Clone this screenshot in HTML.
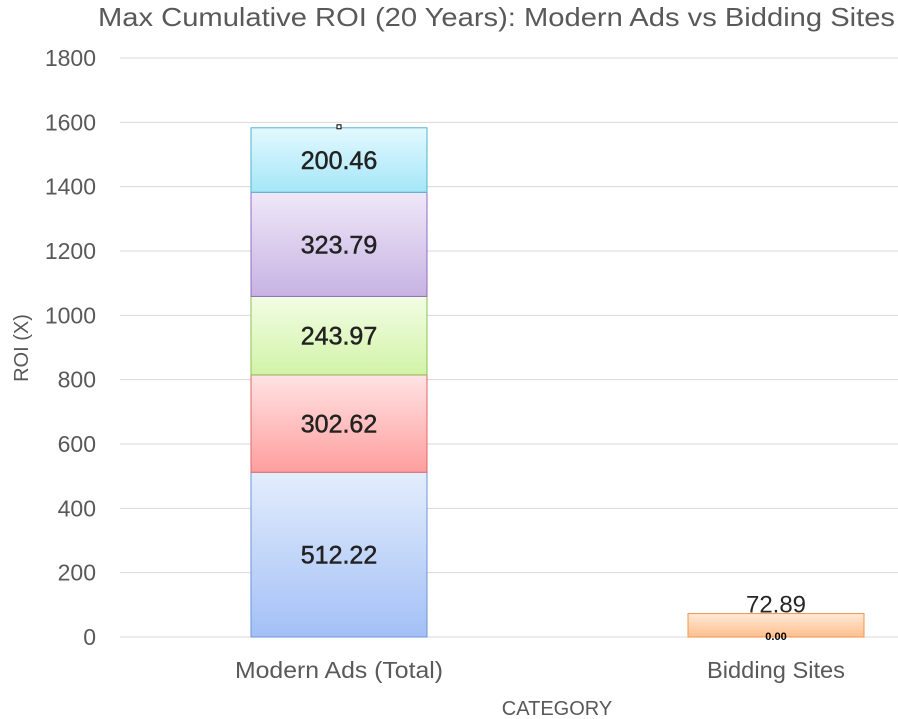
<!DOCTYPE html>
<html><head><meta charset="utf-8"><style>
body{margin:0;background:#fff}
svg{display:block;font-family:"Liberation Sans",sans-serif}
</style></head><body>
<svg id="chart" width="898" height="719">
<defs>
<linearGradient id="g0" x1="0" y1="1" x2="0" y2="0"><stop offset="0" stop-color="#a3c0f6"/><stop offset="1" stop-color="#e3edfd"/></linearGradient>
<linearGradient id="g1" x1="0" y1="1" x2="0" y2="0"><stop offset="0" stop-color="#ff9e9e"/><stop offset="1" stop-color="#ffe3e3"/></linearGradient>
<linearGradient id="g2" x1="0" y1="1" x2="0" y2="0"><stop offset="0" stop-color="#d2f3a8"/><stop offset="1" stop-color="#f2fde4"/></linearGradient>
<linearGradient id="g3" x1="0" y1="1" x2="0" y2="0"><stop offset="0" stop-color="#c7b3e3"/><stop offset="1" stop-color="#efe8f8"/></linearGradient>
<linearGradient id="g4" x1="0" y1="1" x2="0" y2="0"><stop offset="0" stop-color="#a5e6f8"/><stop offset="1" stop-color="#e3f9fe"/></linearGradient>
<linearGradient id="g5" x1="0" y1="1" x2="0" y2="0"><stop offset="0" stop-color="#ffbf8c"/><stop offset="1" stop-color="#ffe9d8"/></linearGradient>
</defs>
<text x="98" y="26" textLength="797" lengthAdjust="spacingAndGlyphs" font-size="26" fill="#595959">Max Cumulative ROI (20 Years): Modern Ads vs Bidding Sites</text>
<g id="grid"></g><g id="bars"></g>
<text x="28" y="348" text-anchor="middle" font-size="20" fill="#595959" transform="rotate(-90 28 348)">ROI (X)</text>
<text x="557" y="715" text-anchor="middle" font-size="20" fill="#595959">CATEGORY</text>
</svg>
<script>
const ticks=[0,200,400,600,800,1000,1200,1400,1600,1800];
const categories=["Modern Ads (Total)","Bidding Sites"];
const modernSegments=[512.22,302.62,243.97,323.79,200.46];
const biddingValues=[72.89];
const fills=["url(#g0)","url(#g1)","url(#g2)","url(#g3)","url(#g4)","url(#g5)"];
const strokes=["#6f93d6","#e06666","#8cc152","#8e6cc0","#4fb3cf","#f0964f"];
const catW=[208,138];
const NS="http://www.w3.org/2000/svg";
function y(v){return 637-v*579/1800;}
const catX=[339,776],bw=176;
function mk(t,a,p){const e=document.createElementNS(NS,t);for(const k in a)e.setAttribute(k,a[k]);p.appendChild(e);return e;}
const grid=document.getElementById('grid'),bars=document.getElementById('bars');
ticks.forEach(t=>{
 const l=mk('line',{x1:120,x2:898,y1:y(t),y2:y(t),stroke:'#d9d9d9','stroke-width':1},grid);
 
 
 const tx=mk('text',{x:96,y:y(t)+8,'text-anchor':'end','font-size':23,fill:'#595959'},grid);
 tx.textContent=t;
 
 
});
categories.forEach((c,i)=>{
 const tx=mk('text',{x:catX[i]-catW[i]/2,y:678,textLength:catW[i],lengthAdjust:'spacingAndGlyphs','font-size':23,fill:'#595959'},grid);
 tx.textContent=c;
 
 
});
let base=0;
modernSegments.forEach((v,i)=>{
 const r=mk('rect',{x:catX[0]-bw/2,y:y(base+v),width:bw,height:y(base)-y(base+v),fill:fills[i],stroke:strokes[i],'stroke-width':1},bars);
 
 
 const tx=mk('text',{x:catX[0],y:(y(base)+y(base+v))/2+9,'text-anchor':'middle','font-size':25,fill:'#222',stroke:'#222','stroke-width':0.5},bars);
 tx.textContent=v.toFixed(2);
 
 
 base+=v;
});
const m=mk('rect',{x:catX[0]-2,y:y(base)-3,width:4,height:4,fill:'#fff',stroke:'#000','stroke-width':1},bars);


biddingValues.forEach((v,i)=>{
 const r=mk('rect',{x:catX[1]-bw/2,y:y(v),width:bw,height:y(0)-y(v),fill:fills[5],stroke:strokes[5],'stroke-width':1},bars);
 
 
 const tx=mk('text',{x:catX[1],y:y(v)-1,'text-anchor':'middle','font-size':24,fill:'#262626'},bars);
 tx.textContent=v.toFixed(2);
 
 
 const z=mk('text',{x:catX[1],y:640,'text-anchor':'middle','font-size':11,'font-weight':'bold',fill:'#000'},bars);
 z.textContent='0.00';
 
 
});
</script>
</body></html>
